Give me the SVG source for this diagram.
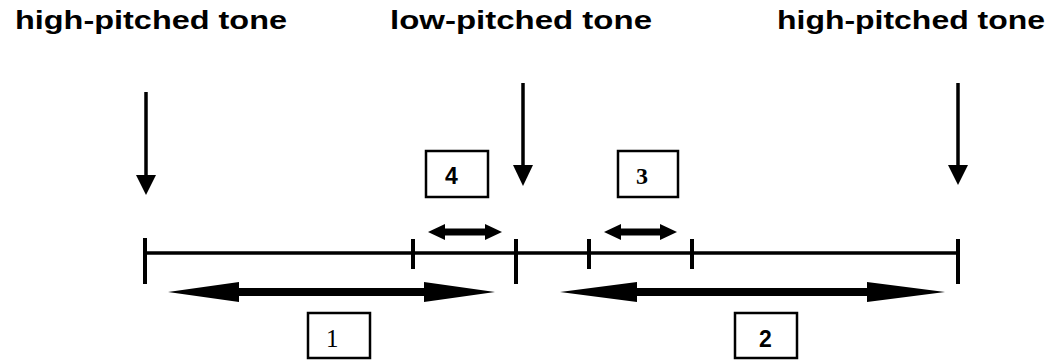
<svg xmlns="http://www.w3.org/2000/svg" width="1060" height="361" viewBox="0 0 1060 361">
<style>
.title{font-family:"Liberation Sans",Arial,sans-serif;font-weight:bold;font-size:26px;fill:#000}
.box{fill:#fff;stroke:#000;stroke-width:2.5}
.sans{font-family:"Liberation Sans",Arial,sans-serif;font-weight:bold;font-size:23px;fill:#000}
.serifb{font-family:"Liberation Serif","Times New Roman",serif;font-weight:bold;font-size:24px;fill:#000}
.serif{font-family:"Liberation Serif","Times New Roman",serif;font-size:25px;fill:#000}
.ln{stroke:#000;stroke-width:3.5;fill:none}
.tick{stroke:#000;stroke-width:4;fill:none}
.head{fill:#000;stroke:none}
</style>
<rect width="1060" height="361" fill="#fff"/>
<g id="label-high-left"><text class="title" x="15" y="29" textLength="272" lengthAdjust="spacingAndGlyphs">high-pitched tone</text></g>
<g id="label-low"><text class="title" x="390" y="29" textLength="262" lengthAdjust="spacingAndGlyphs">low-pitched tone</text></g>
<g id="label-high-right"><text class="title" x="777" y="29" textLength="268" lengthAdjust="spacingAndGlyphs">high-pitched tone</text></g>
<g id="timeline">
<line class="ln" x1="145" y1="253" x2="958" y2="253"/>
<line class="tick" x1="145" y1="238" x2="145" y2="284"/>
<line class="tick" x1="413" y1="239" x2="413" y2="269"/>
<line class="tick" x1="516" y1="239" x2="516" y2="284"/>
<line class="tick" x1="589" y1="239" x2="589" y2="269"/>
<line class="tick" x1="692" y1="239" x2="692" y2="269"/>
<line class="tick" x1="958" y1="239" x2="958" y2="284"/>
</g>
<g id="box-4"><rect class="box" x="426" y="151" width="62" height="46"/><text class="sans" x="445" y="184">4</text></g>
<g id="box-3"><rect class="box" x="618" y="151" width="60" height="46"/><text class="serifb" x="636" y="184">3</text></g>
<g id="box-1"><rect class="box" x="308" y="313" width="62" height="45"/><text class="serif" x="326" y="347">1</text></g>
<g id="box-2"><rect class="box" x="735" y="313" width="62" height="45"/><text class="sans" x="759" y="347">2</text></g>
<g id="connectors">
<line class="ln" x1="146" y1="92" x2="146" y2="178"/>
<polygon class="head" points="136,175 156,175 146,195"/>
<line class="ln" x1="523" y1="83" x2="523" y2="168"/>
<polygon class="head" points="513,165 533,165 523,186"/>
<line class="ln" x1="958" y1="83" x2="958" y2="168"/>
<polygon class="head" points="948,165 968,165 958,185"/>
<polygon class="head" points="168,292 239,282 239,288 424,288 424,282 495,292 424,302 424,296 239,296 239,302"/>
<polygon class="head" points="560,292 637,282 637,288 867,288 867,282 945,292 867,302 867,296 637,296 637,302"/>
<polygon class="head" points="428,232 445,224 445,228.5 485,228.5 485,224 502,232 485,240 485,235.5 445,235.5 445,240"/>
<polygon class="head" points="604,232 621,224 621,228.5 660,228.5 660,224 677,232 660,240 660,235.5 621,235.5 621,240"/>
</g>
</svg>
